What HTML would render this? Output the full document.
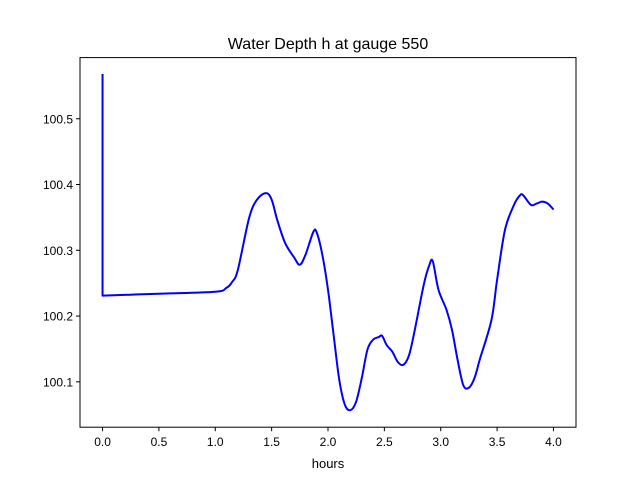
<!DOCTYPE html>
<html><head><meta charset="utf-8"><style>
html,body{margin:0;padding:0;background:#fff}
svg{display:block;font-family:"Liberation Sans","DejaVu Sans",sans-serif}
</style></head><body>
<svg id="chart" width="640" height="480" viewBox="0 0 640 480">
<rect width="640" height="480" fill="#fff"/>
<text x="328" y="49" text-anchor="middle" font-size="16" fill="#000">Water Depth h at gauge 550</text>
<g id="ticks"></g>
<path id="series" fill="none" stroke="#0000ff" stroke-width="2" stroke-linejoin="round"/>
<rect x="80" y="57.6" width="496" height="369.6" fill="none" stroke="#000" stroke-width="1"/>
<text x="328" y="468" text-anchor="middle" font-size="13" fill="#000">hours</text>
</svg>
<script>
const hours = [0,0,0.5,1.0,1.1,1.15,1.2,1.3,1.37,1.45,1.5,1.55,1.62,1.7,1.75,1.8,1.87,1.9,1.95,2.0,2.05,2.1,2.15,2.2,2.25,2.3,2.35,2.4,2.45,2.48,2.52,2.57,2.62,2.67,2.72,2.77,2.85,2.9,2.93,2.98,3.05,3.1,3.15,3.2,3.25,3.3,3.35,3.45,3.5,3.57,3.65,3.7,3.73,3.8,3.85,3.9,3.95,4.0];
const depth = [100.568,100.231,100.234,100.237,100.243,100.252,100.27,100.349,100.377,100.387,100.377,100.346,100.311,100.289,100.278,100.293,100.328,100.327,100.293,100.24,100.171,100.103,100.065,100.057,100.07,100.106,100.149,100.164,100.168,100.170,100.156,100.146,100.130,100.126,100.141,100.179,100.248,100.278,100.283,100.240,100.210,100.179,100.133,100.095,100.091,100.106,100.136,100.194,100.255,100.331,100.369,100.383,100.384,100.369,100.371,100.374,100.371,100.362];
const xTicks = [0,0.5,1.0,1.5,2.0,2.5,3.0,3.5,4.0];
const xTickLabels = ["0.0","0.5","1.0","1.5","2.0","2.5","3.0","3.5","4.0"];
const yTicks = [100.1,100.2,100.3,100.4,100.5];
const yTickLabels = ["100.1","100.2","100.3","100.4","100.5"];

const X0=80,X1=576,Y0=57.6,Y1=427.2;
const xMin=-0.2,xMax=4.2,yMin=100.031,yMax=100.593;
const sx=v=>X0+(v-xMin)/(xMax-xMin)*(X1-X0);
const sy=v=>Y1-(v-yMin)/(yMax-yMin)*(Y1-Y0);
const NS="http://www.w3.org/2000/svg";
const g=document.getElementById('ticks');
function mk(tag,attrs){const e=document.createElementNS(NS,tag);for(const k in attrs)e.setAttribute(k,attrs[k]);g.appendChild(e);return e;}
xTicks.forEach((t,i)=>{
  const x=sx(t);
  const l=mk('line',{x1:x,x2:x,y1:Y1,y2:Y1+4,stroke:'#000'});
  
  
  const tx=mk('text',{x:x,y:Y1+19,'text-anchor':'middle','font-size':12,fill:'#000'});
  tx.textContent=xTickLabels[i];
  
  
});
yTicks.forEach((t,i)=>{
  const y=sy(t);
  const l=mk('line',{x1:X0-4,x2:X0,y1:y,y2:y,stroke:'#000'});
  
  
  const tx=mk('text',{x:X0-7,y:y+4.5,'text-anchor':'end','font-size':12,fill:'#000'});
  tx.textContent=yTickLabels[i];
  
  
});
// smooth path (Catmull-Rom) through data points
const pts=hours.map((h,i)=>[sx(h),sy(depth[i])]);
let d=`M${pts[0][0]},${pts[0][1]} L${pts[1][0]},${pts[1][1]}`;
for(let i=1;i<pts.length-1;i++){
  const p0=pts[Math.max(1,i-1)],p1=pts[i],p2=pts[i+1],p3=pts[Math.min(pts.length-1,i+2)];
  const c1=[p1[0]+(p2[0]-p0[0])/6,p1[1]+(p2[1]-p0[1])/6];
  const c2=[p2[0]-(p3[0]-p1[0])/6,p2[1]-(p3[1]-p1[1])/6];
  d+=` C${c1[0]},${c1[1]} ${c2[0]},${c2[1]} ${p2[0]},${p2[1]}`;
}
document.getElementById('series').setAttribute('d',d);
</script>
</body></html>
